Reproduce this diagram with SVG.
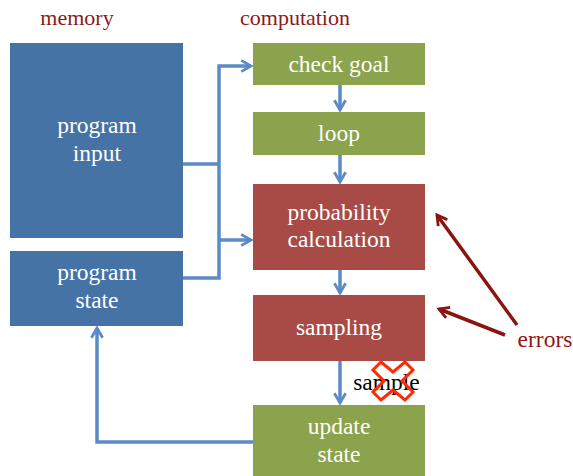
<svg xmlns="http://www.w3.org/2000/svg" width="573" height="476" viewBox="0 0 573 476">
<style>
.t{font-family:"Liberation Serif","Times New Roman",serif;font-size:23.5px;text-anchor:middle}
.ti{font-size:22px}
.w{fill:#ffffff}
.h{fill:#8B1A1A}
.mem{fill:#4673A5}
.grn{fill:#8BA34C}
.red{fill:#A84B47}
.c{fill:none;stroke:#5A8BC6;stroke-width:3.5;stroke-linejoin:miter}
.e{fill:none;stroke:#8B1410;stroke-width:3.5}
</style>
<defs>
<marker id="ab" viewBox="0 0 10 10" refX="8" refY="5" markerWidth="4" markerHeight="4" orient="auto" markerUnits="strokeWidth">
<path d="M1,1 L8,5 L1,9" fill="none" stroke="#5A8BC6" stroke-width="2"/>
</marker>
<marker id="ar" viewBox="0 0 10 10" refX="8" refY="5" markerWidth="4" markerHeight="4" orient="auto" markerUnits="strokeWidth">
<path d="M1,1 L8,5 L1,9" fill="none" stroke="#8B1410" stroke-width="2"/>
</marker>
</defs>
<text class="t ti h" x="77" y="25">memory</text>
<text class="t ti h" x="295" y="25">computation</text>
<g id="program-input"><rect class="mem" x="10" y="43" width="173" height="195"/><text class="t w" x="97" y="133">program</text><text class="t w" x="97" y="161">input</text></g>
<g id="program-state"><rect class="mem" x="10" y="251" width="173" height="75"/><text class="t w" x="97" y="280">program</text><text class="t w" x="97" y="308">state</text></g>
<g id="check-goal"><rect class="grn" x="253" y="43" width="172" height="42"/><text class="t w" x="339" y="72">check goal</text></g>
<g id="loop"><rect class="grn" x="253" y="112" width="172" height="43"/><text class="t w" x="339" y="141">loop</text></g>
<g id="probability-calculation"><rect class="red" x="253" y="184" width="172" height="86"/><text class="t w" x="339" y="220">probability</text><text class="t w" x="339" y="247">calculation</text></g>
<g id="sampling"><rect class="red" x="253" y="295" width="172" height="66"/><text class="t w" x="339" y="335">sampling</text></g>
<g id="update-state"><rect class="grn" x="253" y="405" width="172" height="71"/><text class="t w" x="339" y="434">update</text><text class="t w" x="339" y="462">state</text></g>
<g id="connectors">
<path class="c" d="M183,164 H219"/>
<path class="c" d="M183,278 H219 V66 H251" marker-end="url(#ab)"/>
<path class="c" d="M219,240 H251" marker-end="url(#ab)"/>
<path class="c" d="M340,85 V110" marker-end="url(#ab)"/>
<path class="c" d="M340,155 V182" marker-end="url(#ab)"/>
<path class="c" d="M340,270 V293" marker-end="url(#ab)"/>
<path class="c" d="M340,361 V403" marker-end="url(#ab)"/>
<path class="c" d="M253,442 H97 V328" marker-end="url(#ab)"/>
<path class="e" d="M517,325 L437,215" marker-end="url(#ar)"/>
<path class="e" d="M505,335 L439,309" marker-end="url(#ar)"/>
</g>
<text class="t" x="386.5" y="390" style="fill:#000">sample</text>
<polygon points="381,362 393,372 405,362 413,370 402,381 413,392 405,400 393,390 381,400 373,392 384,381 373,370" fill="none" stroke="#FF2A00" stroke-width="3" stroke-linejoin="miter"/>
<text class="t h" x="545" y="347">errors</text>
</svg>
